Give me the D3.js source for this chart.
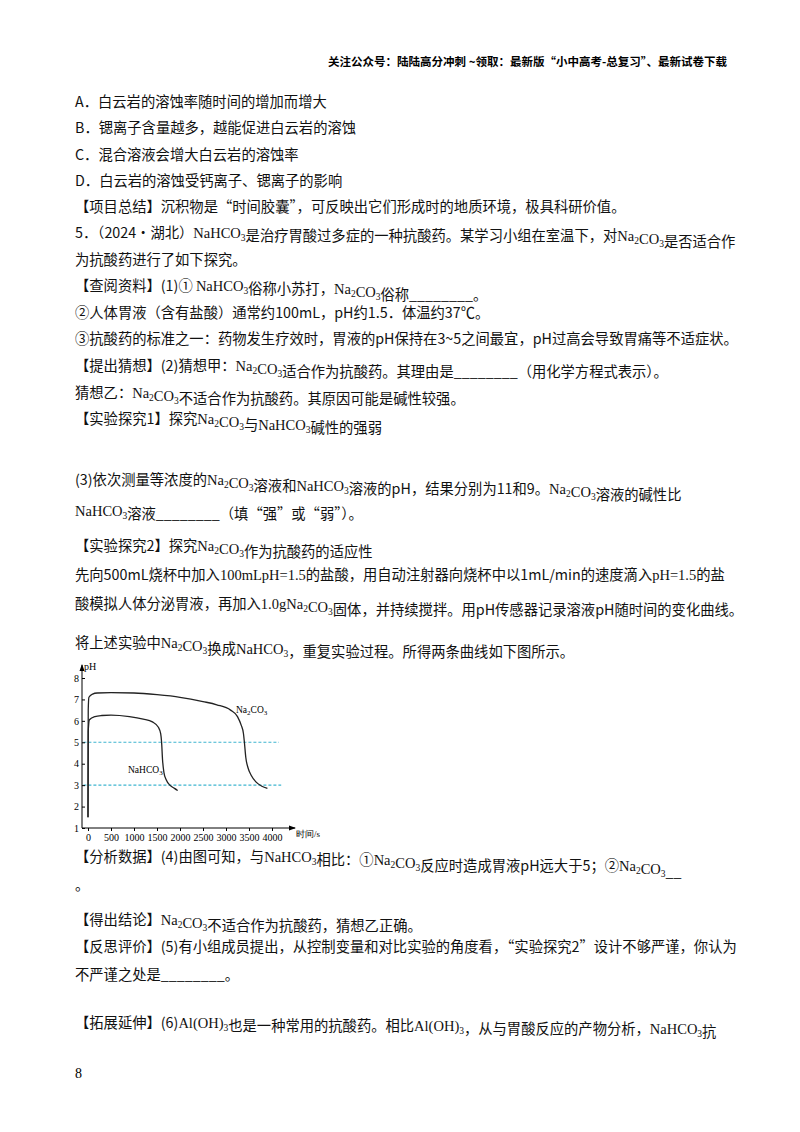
<!DOCTYPE html>
<html><head><meta charset="utf-8">
<script src="https://cdn.jsdelivr.net/npm/d3@7"></script>
<style>body{margin:0;background:#fff}</style></head>
<body><script>
var width = 800, height = 1132;

// text lines: [x, baseline y, text]; [[...]] marks a formula, _n a subscript
var lines = [
  [75, 107, "A．白云岩的溶蚀率随时间的增加而增大"],
  [75, 133, "B．锶离子含量越多，越能促进白云岩的溶蚀"],
  [75, 160, "C．混合溶液会增大白云岩的溶蚀率"],
  [75, 186, "D．白云岩的溶蚀受钙离子、锶离子的影响"],
  [75, 212, "【项目总结】沉积物是“时间胶囊”，可反映出它们形成时的地质环境，极具科研价值。"],
  [75, 238, "5．（2024·湖北）[[NaHCO_3]]是治疗胃酸过多症的一种抗酸药。某学习小组在室温下，对[[Na_2CO_3]]是否适合作"],
  [75, 265, "为抗酸药进行了如下探究。"],
  [75, 291, "【查阅资料】(1)① [[NaHCO_3]]俗称小苏打，[[Na_2CO_3]]俗称________。"],
  [75, 318, "②人体胃液（含有盐酸）通常约100mL，pH约1.5．体温约37℃。"],
  [75, 344, "③抗酸药的标准之一：药物发生疗效时，胃液的pH保持在3~5之间最宜，pH过高会导致胃痛等不适症状。"],
  [75, 371, "【提出猜想】(2)猜想甲：[[Na_2CO_3]]适合作为抗酸药。其理由是________（用化学方程式表示）。"],
  [75, 398, "猜想乙：[[Na_2CO_3]]不适合作为抗酸药。其原因可能是碱性较强。"],
  [75, 424, "【实验探究1】探究[[Na_2CO_3]]与[[NaHCO_3]]碱性的强弱"],
  [75, 485, "(3)依次测量等浓度的[[Na_2CO_3]]溶液和[[NaHCO_3]]溶液的pH，结果分别为11和9。[[Na_2CO_3]]溶液的碱性比"],
  [75, 516, "[[NaHCO_3]]溶液________（填“强”或“弱”）。"],
  [75, 551, "【实验探究2】探究[[Na_2CO_3]]作为抗酸药的适应性"],
  [75, 580, "先向500mL烧杯中加入[[100mLpH=1.5]]的盐酸，用自动注射器向烧杯中以1mL/min的速度滴入[[pH=1.5]]的盐"],
  [75, 609, "酸模拟人体分泌胃液，再加入[[1.0gNa_2CO_3]]固体，并持续搅拌。用pH传感器记录溶液pH随时间的变化曲线。"],
  [75, 648, "将上述实验中[[Na_2CO_3]]换成[[NaHCO_3]]，重复实验过程。所得两条曲线如下图所示。"],
  [75, 862, "【分析数据】(4)由图可知，与[[NaHCO_3]]相比：①[[Na_2CO_3]]反应时造成胃液pH远大于5；②[[Na_2CO_3]]__"],
  [75, 890, "。"],
  [75, 925, "【得出结论】[[Na_2CO_3]]不适合作为抗酸药，猜想乙正确。"],
  [75, 952, "【反思评价】(5)有小组成员提出，从控制变量和对比实验的角度看，“实验探究2”设计不够严谨，你认为"],
  [75, 980, "不严谨之处是________。"],
  [75, 1028, "【拓展延伸】(6)[[Al(OH)_3]]也是一种常用的抗酸药。相比[[Al(OH)_3]]，从与胃酸反应的产物分析，[[NaHCO_3]]抗"]
];

// curve data
var na2co3T = [0, 5, 20, 100, 200, 500, 1000, 1500, 2000, 2500, 2800, 3100, 3250, 3330, 3380, 3400, 3430, 3480, 3550, 3650, 3780, 3900];
var na2co3P = [1.5, 6.5, 7.1, 7.25, 7.3, 7.32, 7.3, 7.22, 7.1, 6.9, 6.75, 6.5, 6.2, 5.8, 5.4, 5.0, 4.3, 3.8, 3.45, 3.15, 2.95, 2.85];
var nahco3T = [0, 5, 30, 150, 300, 500, 900, 1200, 1400, 1530, 1580, 1600, 1620, 1650, 1700, 1780, 1880, 1950];
var nahco3P = [1.5, 5.5, 6.05, 6.2, 6.25, 6.27, 6.2, 6.08, 5.95, 5.7, 5.4, 5.0, 4.2, 3.6, 3.25, 3.0, 2.85, 2.75];
var xTicks = [0, 500, 1000, 1500, 2000, 2500, 3000, 3500, 4000];
var yTicks = [1, 2, 3, 4, 5, 6, 7, 8];
var refLevels = [5, 3];

var svg = d3.select("body").append("svg").attr("width", width).attr("height", height);
var cjk = "'Noto Sans CJK SC', sans-serif", serif = "'Liberation Serif', 'DejaVu Serif', serif";

svg.append("text").attr("x", 727).attr("y", 66).attr("text-anchor", "end")
  .style("font-family", cjk).style("font-size", "11.5px").style("font-weight", "bold")
  .text("关注公众号：陆陆高分冲刺  ~领取：最新版“小中高考-总复习”、最新试卷下载");

function writeLine(l) {
  var t = svg.append("text").attr("x", l[0]).attr("y", l[1])
    .style("font-family", cjk).style("font-size", "14.3px").attr("fill", "#111");
  l[2].split(/(\[\[.*?\]\])/).forEach(function(seg) {
    if (!seg) return;
    if (seg.slice(0, 2) == "[[") {
      var f = seg.slice(2, -2);
      f.split(/(_\d)/).forEach(function(p) {
        if (!p) return;
        if (p[0] == "_") {
          t.append("tspan").attr("dy", 3).style("font-family", serif).style("font-size", "9.5px").text(p[1]);
          t.append("tspan").attr("dy", -3).text("");
        } else {
          t.append("tspan").style("font-family", serif).style("font-size", "14.5px").text(p);
        }
      });
    } else {
      t.append("tspan").text(seg);
    }
  });
}
lines.forEach(writeLine);

svg.append("text").attr("x", 75).attr("y", 1078).style("font-family", serif).style("font-size", "14px").text("8");

// chart
var x = d3.scaleLinear().domain([0, 4000]).range([88, 272]);
var y = d3.scaleLinear().domain([1, 8]).range([828, 678]);
var g = svg.append("g").style("font-family", serif).style("font-size", "10px");

g.selectAll(".ref").data(refLevels).enter().append("line")
  .attr("x1", x(-100)).attr("x2", function(d) { return d == 5 ? x(4150) : x(4200); })
  .attr("y1", y).attr("y2", y)
  .attr("stroke", "#3fb5d0").attr("stroke-width", 1.1).attr("stroke-dasharray", "3,2");

var line = d3.line().x(function(d) { return x(d[0]); }).y(function(d) { return y(d[1]); }).curve(d3.curveMonotoneX);
[[na2co3T, na2co3P], [nahco3T, nahco3P]].forEach(function(s) {
  g.append("path").attr("d", line(d3.zip(s[0], s[1]))).attr("fill", "none")
    .attr("stroke", "#222").attr("stroke-width", 1.3);
});

// axes
var ax = g.append("g").attr("transform", "translate(0," + y(1) + ")")
  .call(d3.axisBottom(x).tickValues(xTicks).tickSize(3).tickFormat(d3.format("d")));
ax.select(".domain").attr("d", "M" + (x(0) - 6) + ",0H" + 295);
var ay = g.append("g").attr("transform", "translate(" + (x(0) - 6) + ",0)")
  .call(d3.axisLeft(y).tickValues(yTicks).tickSize(-3).tickFormat(d3.format("d")));
ay.select(".domain").attr("d", "M0," + y(1) + "V" + 665);
g.selectAll(".tick text").style("font-family", serif).style("font-size", "10px");
ay.selectAll(".tick text").attr("x", -3);
g.append("path").attr("d", "M" + (x(0) - 8.5) + ",671L" + (x(0) - 6) + ",664L" + (x(0) - 3.5) + ",671Z").attr("fill", "#000");
g.append("path").attr("d", "M289,825.5L296,828L289,830.5Z").attr("fill", "#000");
g.append("text").attr("x", x(0) - 4).attr("y", 670).text("pH");
g.append("text").attr("x", 296).attr("y", 837).style("font-size", "9px").text("时间/s");
g.append("text").attr("x", 236).attr("y", 713).style("font-size", "9.5px").html("Na<tspan dy='2' font-size='7'>2</tspan><tspan dy='-2'>CO</tspan><tspan dy='2' font-size='7'>3</tspan>");
g.append("text").attr("x", 128).attr("y", 773).style("font-size", "9.5px").html("NaHCO<tspan dy='2' font-size='7'>3</tspan>");
</script></body></html>
